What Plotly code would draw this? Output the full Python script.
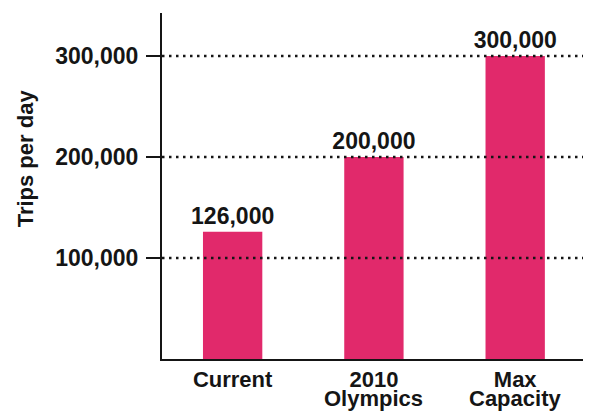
import plotly.graph_objects as go

categories = ["Current", "2010 Olympics", "Max Capacity"]
label_line1 = ["Current", "2010", "Max"]
label_line2 = ["", "Olympics", "Capacity"]
trips = [126000, 200000, 300000]
bar_text = ["126,000", "200,000", "300,000"]
y_ticks = [100000, 200000, 300000]
y_tick_text = ["100,000", "200,000", "300,000"]

FONT = "Liberation Sans, Arial, Helvetica, sans-serif"
INK = "#151515"
FS = 23

fig = go.Figure()
fig.add_trace(go.Bar(
    x=categories, y=trips, text=["<b>%s</b>" % t for t in bar_text],
    textposition="outside", constraintext="none",
    textfont=dict(family=FONT, size=FS, color=INK),
    marker=dict(color="#E1296B", line=dict(width=0)),
    width=0.42, cliponaxis=False, hoverinfo="skip",
))

for v in y_ticks:
    fig.add_hline(y=v, line=dict(color=INK, width=2.5, dash="2.5px,4.5px"), layer="above")

for c, t in zip(categories, label_line2):
    if t:
        fig.add_annotation(x=c, xref="x", y=0, yref="paper", yanchor="top",
                           yshift=-26, borderpad=0, text="<b>%s</b>" % t, showarrow=False,
                           font=dict(family=FONT, size=22, color=INK))

fig.add_annotation(x=0, xref="paper", xshift=-137, y=0.58, yref="paper",
                   xanchor="center", yanchor="middle", textangle=-90,
                   text="<b>Trips per day</b>", showarrow=False,
                   font=dict(family=FONT, size=22, color=INK))

fig.update_layout(
    width=596, height=412,
    margin=dict(l=162, r=13, t=13, b=53),
    paper_bgcolor="white", plot_bgcolor="white",
    showlegend=False,
    font=dict(family=FONT, color=INK),
    xaxis=dict(
        tickmode="array", tickvals=categories,
        ticktext=["<b>%s</b>" % t for t in label_line1],
        tickfont=dict(family=FONT, size=22, color=INK),
        range=[-0.5, 2.48], showline=True, linecolor=INK, linewidth=2,
        ticks="", showgrid=False, zeroline=False, fixedrange=True,
    ),
    yaxis=dict(
        range=[0, 342500], tickmode="array", tickvals=y_ticks,
        ticktext=["<b>%s</b>" % t for t in y_tick_text],
        tickfont=dict(family=FONT, size=FS, color=INK),
        ticks="outside", ticklen=14, tickwidth=2, tickcolor=INK,
        ticklabelstandoff=3,
        showline=True, linecolor=INK, linewidth=2,
        showgrid=False, zeroline=False, fixedrange=True,
    ),
)

fig.write_html("out.html", config={"displayModeBar": False},
               post_script="document.body.style.margin='0';document.body.style.overflow='hidden';")
